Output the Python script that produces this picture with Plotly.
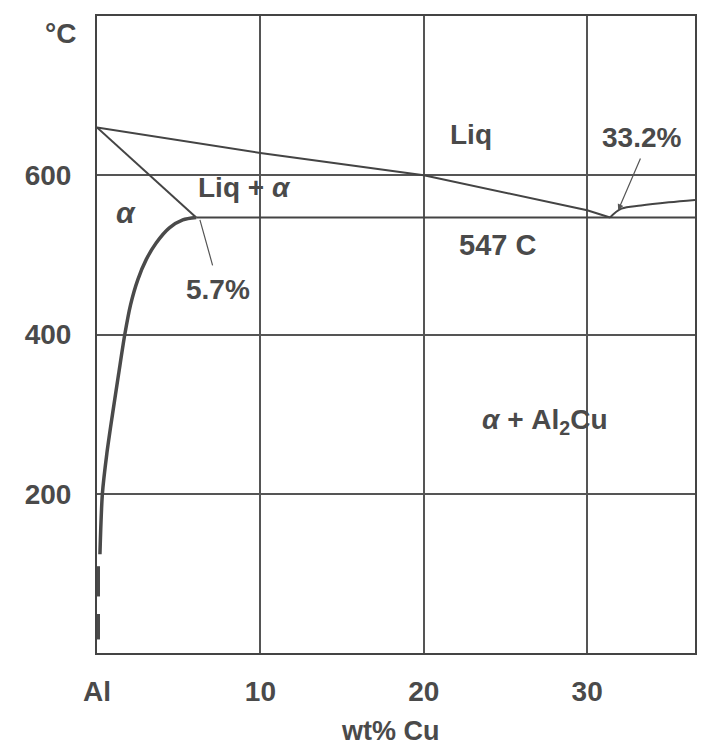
import plotly.graph_objects as go

# --- data ---
liq_x = [0, 10, 20, 30, 31.4]
liq_t = [660, 628, 600, 556, 547]

sol_x = [0, 6.07]
sol_t = [660, 547]

solvus_x = [6.07, 5.25, 4.43, 3.62, 3.01, 2.50, 2.05, 1.7, 1.32, 0.95, 0.6, 0.33, 0.18]
solvus_t = [547, 544, 534, 515, 494, 469, 437, 400, 350, 300, 250, 200, 124]

solvus_dash_x = [0.06, 0.06, None, 0.06, 0.06]
solvus_dash_t = [109, 71, None, 49, 17]

eut_x = [6.07, 36.6]
eut_t = [547, 547]

theta_x = [31.4, 32.1, 33.3, 35.0, 36.6]
theta_t = [547, 558, 562, 566, 569]

x_ticks = [0, 10, 20, 30]
x_tick_text = ["Al", "10", "20", "30"]
y_ticks = [200, 400, 600]
y_tick_text = ["200", "400", "600"]

FONT = "Liberation Sans, Arial, sans-serif"
INK = "#4a4a4a"
LINE = "#444444"

# page body adds ~8px offset; plot area targeted at x 97..695, y 16..653 on screen
L, R, T, B = 89, 20, 8, 104
PW = 707 - L - R
PH = 749 - T - B

fig = go.Figure()
fig.add_trace(go.Scatter(x=liq_x, y=liq_t, mode="lines", line=dict(color=LINE, width=2)))
fig.add_trace(go.Scatter(x=sol_x, y=sol_t, mode="lines", line=dict(color=LINE, width=2)))
fig.add_trace(go.Scatter(x=solvus_x, y=solvus_t, mode="lines",
                         line=dict(color="#4a4a4a", width=3.5, shape="spline", smoothing=0.8)))
fig.add_trace(go.Scatter(x=solvus_dash_x, y=solvus_dash_t, mode="lines", line=dict(color="#4a4a4a", width=4)))
fig.add_trace(go.Scatter(x=eut_x, y=eut_t, mode="lines", line=dict(color=LINE, width=2)))
fig.add_trace(go.Scatter(x=theta_x, y=theta_t, mode="lines", line=dict(color=LINE, width=2, shape="spline")))

def txt(x, y, s, size=28, **kw):
    fig.add_annotation(x=x, y=y, text="<b>" + s + "</b>", showarrow=False, xref="x", yref="y",
                       xanchor="center", yanchor="middle",
                       font=dict(family=FONT, size=size, color=INK), **kw)

txt(22.9, 651, "Liq")
txt(33.3, 648, "33.2%")
txt(9.0, 585, "Liq + <i>α</i>")
txt(1.8, 553, "<i>α</i>", size=30)
txt(7.4, 456, "5.7%")
txt(24.5, 513, "547 C", size=29)
txt(27.4, 291, "<i>α</i> + Al<sub>2</sub>Cu")

# pointer lines
fig.add_annotation(x=6.3, y=544, ax=7.1, ay=485, axref="x", ayref="y", xref="x", yref="y",
                   text="", showarrow=True, arrowhead=0, arrowwidth=1.2, arrowcolor="#555")
fig.add_annotation(x=31.9, y=556, ax=33.3, ay=623, axref="x", ayref="y", xref="x", yref="y",
                   text="", showarrow=True, arrowhead=2, arrowsize=1, arrowwidth=1.2, arrowcolor="#555")

# unit and axis title
fig.add_annotation(xref="paper", yref="paper", x=(60 - 97) / PW, y=1 + (16 - 34) / PH,
                   xanchor="center", yanchor="middle",
                   text="<b>°C</b>", showarrow=False, font=dict(family=FONT, size=28, color=INK))
fig.add_annotation(xref="paper", yref="paper", x=(390 - 97) / PW, y=-(731 - 653) / PH,
                   xanchor="center", yanchor="middle",
                   text="<b>wt% Cu</b>", showarrow=False, font=dict(family=FONT, size=27, color=INK))

fig.update_layout(
    width=707, height=749,
    margin=dict(l=L, r=R, t=T, b=B),
    paper_bgcolor="white", plot_bgcolor="white",
    showlegend=False,
    xaxis=dict(range=[0, 36.6], tickvals=x_ticks, ticktext=["<b>%s</b>" % t for t in x_tick_text],
               showgrid=True, gridcolor="#555", gridwidth=1.5, showline=True, linecolor=LINE,
               linewidth=2, mirror=True, ticks="", zeroline=False, ticklabelstandoff=12,
               automargin=False, tickfont=dict(family=FONT, size=28, color=INK)),
    yaxis=dict(range=[0, 800], tickvals=y_ticks, ticktext=["<b>%s</b>" % t for t in y_tick_text],
               showgrid=True, gridcolor="#555", gridwidth=1.5, showline=True, linecolor=LINE,
               linewidth=2, mirror=True, ticks="", zeroline=False, ticklabelstandoff=18,
               automargin=False, tickfont=dict(family=FONT, size=28, color=INK)),
)

fig.write_html("out.html")
